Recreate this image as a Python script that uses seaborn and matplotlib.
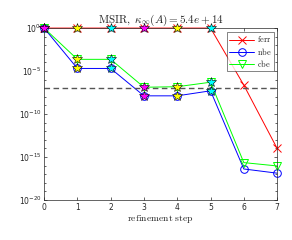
import numpy as np
import pandas as pd
import seaborn as sns
import matplotlib.pyplot as plt

# values
steps = [0, 1, 2, 3, 4, 5, 6, 7]
ferr = [1.0, 1.0, 1.0, 1.0, 1.0, 1.0, 2.3e-7, 1.0e-14]
nbe = [1.0, 2.0e-5, 2.0e-5, 1.3e-8, 1.3e-8, 5.0e-8, 4.0e-17, 1.3e-17]
cbe = [1.0, 2.3e-4, 2.3e-4, 1.3e-7, 1.5e-7, 5.0e-7, 2.2e-16, 9.0e-17]
star_steps = [0, 1, 2, 3, 4, 5]
star_colors = ["magenta", "yellow", "cyan", "magenta", "yellow", "cyan"]
threshold = 1.15e-7

sns.set_style("ticks")
plt.rcParams["mathtext.fontset"] = "cm"
plt.rcParams["font.family"] = ["DejaVu Sans"]

fig = plt.figure(figsize=(2.92, 2.4), dpi=100)
ax = fig.add_axes([0.151, 0.167, 0.798, 0.716])

series = [("ferr", ferr, "red", "x", dict()),
          ("nbe", nbe, "blue", "o", dict(mfc="none")),
          ("cbe", cbe, "lime", "v", dict(mfc="none"))]
for name, vals, col, mk, extra in series:
    df = pd.DataFrame({"step": steps, "val": vals})
    sns.lineplot(data=df, x="step", y="val", ax=ax, color=col, marker=mk,
                 markersize=5.5, markeredgecolor=col, markeredgewidth=0.7,
                 linewidth=0.7, label=r"$\mathrm{%s}$" % name, clip_on=False, **extra)

ax.axhline(threshold, color="#555555", linestyle="--", linewidth=1.0, dashes=(4, 2.5))

# precision stars on steps 0..5
for vals in (ferr, nbe, cbe):
    for s, c in zip(star_steps, star_colors):
        ax.plot(s, vals[s], marker="*", markersize=7, markerfacecolor=c,
                markeredgecolor="black", markeredgewidth=0.4, linestyle="none",
                clip_on=False, zorder=5)

ax.set_yscale("log")
ax.set_ylim(1e-20, 1e0)
ax.set_xlim(0, 7)
ax.set_yticks([1e-20, 1e-15, 1e-10, 1e-5, 1e0])
ax.set_yticks([10.0 ** k for k in range(-20, 1)], minor=True)
ax.yaxis.set_minor_formatter(plt.NullFormatter())
ax.set_xticks(steps)
ax.tick_params(axis="both", which="both", direction="in", top=True, right=True,
               labelsize=5.5, colors="#262626", width=0.5, length=2.5, pad=2)
ax.tick_params(axis="y", which="minor", length=1.5)
for sp in ax.spines.values():
    sp.set_linewidth(0.5)
    sp.set_color("#262626")

ax.set_title(r"$\mathrm{MSIR,}\ \kappa_\infty(A) = 5.4e+14$", fontsize=8, pad=4)
ax.set_xlabel(r"$\mathrm{refinement\ step}$", fontsize=7, labelpad=1)
ax.set_ylabel("")

leg = ax.legend(loc="upper right", fontsize=6, handlelength=3.0,
                frameon=True, fancybox=False, edgecolor="#262626",
                borderpad=0.25, labelspacing=0.15, handletextpad=0.3,
                borderaxespad=0.0, bbox_to_anchor=(0.985, 0.975))
leg.get_frame().set_linewidth(0.5)

fig.savefig("out.png", dpi=100)
